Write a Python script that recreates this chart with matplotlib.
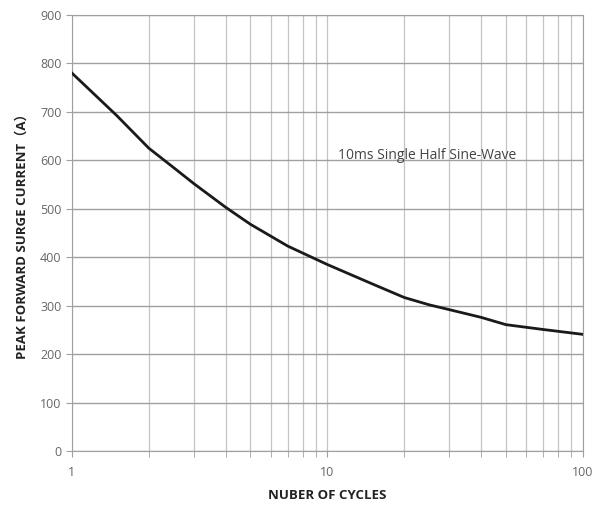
import matplotlib
matplotlib.use("Agg")
import matplotlib.pyplot as plt
from matplotlib.ticker import FixedLocator, NullFormatter

# surge current vs number of cycles
cycles = [1, 1.5, 2, 2.5, 3, 4, 5, 7, 10, 15, 20, 25, 30, 40, 50, 70, 100]
current = [780, 692, 625, 585, 552, 503, 468, 423, 385, 345, 317, 302, 292, 276, 261, 251, 241]
yticks = list(range(0, 1000, 100))
xticks = [1, 10, 100]
note = "10ms Single Half Sine-Wave"

plt.rcParams['font.family'] = ['Open Sans', 'Noto Sans CJK SC', 'DejaVu Sans']
fig = plt.figure(figsize=(6.04, 5.11), dpi=100)
ax = fig.add_axes([0.119, 0.117, 0.846, 0.854])

ax.plot(cycles, current, color="#1a1a1a", lw=2.0, zorder=3)
ax.set_xscale("log")
ax.set_xlim(1, 100); ax.set_ylim(0, 900)
ax.set_yticks(yticks)
ax.set_xticks(xticks); ax.set_xticklabels([str(t) for t in xticks])
minors = [m * d for d in (1, 10) for m in range(2, 10)]
ax.xaxis.set_minor_locator(FixedLocator(minors))
ax.xaxis.set_minor_formatter(NullFormatter())
ax.grid(True, which="major", axis="y", color="#a0a0a0", lw=1.0)
ax.grid(True, which="both", axis="x", color="#c4c4c4", lw=0.9)
ax.set_axisbelow(True)
for s in ax.spines.values():
    s.set_color("#a0a0a0")
ax.tick_params(axis="both", which="both", colors="#a0a0a0", labelcolor="#666666", labelsize=9, length=4)
ax.tick_params(axis="x", which="major", pad=7)

ax.text(11, 610, note, fontsize=10, color="#444444", va="center")
ax.set_xlabel("NUBER OF CYCLES", fontsize=9.5, fontweight="bold", color="#222222", labelpad=7)
ax.set_ylabel("PEAK FORWARD SURGE CURRENT（A）", fontsize=9.5, fontweight="bold", color="#222222", labelpad=8)

fig.savefig("out.png", dpi=100)
